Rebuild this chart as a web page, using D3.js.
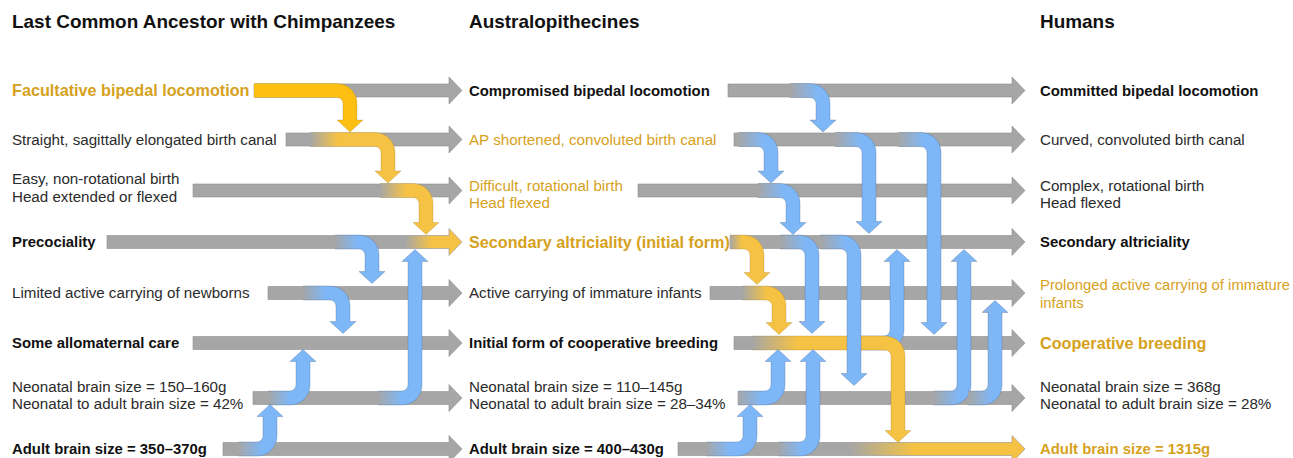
<!DOCTYPE html>
<html><head><meta charset="utf-8">
<script src="https://cdn.jsdelivr.net/npm/d3@7"></script>
<style>
body{margin:0;background:#fff}
text{font-family:"Helvetica Neue",Helvetica,"Liberation Sans",Arial,sans-serif}
</style>
</head><body>
<svg id="chart" width="1293" height="458"></svg>
<script>
// ---------------- DATA ----------------
const columnTitles = ["Last Common Ancestor with Chimpanzees", "Australopithecines", "Humans"];

const lcaTraits = [
  "Facultative bipedal locomotion",
  "Straight, sagittally elongated birth canal",
  "Easy, non-rotational birth\nHead extended or flexed",
  "Precociality",
  "Limited active carrying of newborns",
  "Some allomaternal care",
  "Neonatal brain size = 150–160g\nNeonatal to adult brain size = 42%",
  "Adult brain size = 350–370g"
];
const australTraits = [
  "Compromised bipedal locomotion",
  "AP shortened, convoluted birth canal",
  "Difficult, rotational birth\nHead flexed",
  "Secondary altriciality (initial form)",
  "Active carrying of immature infants",
  "Initial form of cooperative breeding",
  "Neonatal brain size = 110–145g\nNeonatal to adult brain size = 28–34%",
  "Adult brain size = 400–430g"
];
const humanTraits = [
  "Committed bipedal locomotion",
  "Curved, convoluted birth canal",
  "Complex, rotational birth\nHead flexed",
  "Secondary altriciality",
  "Prolonged active carrying of immature\ninfants",
  "Cooperative breeding",
  "Neonatal brain size = 368g\nNeonatal to adult brain size = 28%",
  "Adult brain size = 1315g"
];
const strongRows = [0, 3, 5, 7];
const highlightedRows = [[0], [1, 2, 3], [4, 5, 7]];
const headlineRows = [[0], [3], [5]];

// influences between traits: [transition, fromRow, toRow, kind]
const influenceTransition = [0,0,0,0,0,0,0,0, 1, 1,1,1,1, 1,1,1,1,1,1,1,1,1,1,1];
const influenceFrom       = [0,1,2,3,4,6,7,6, 5, 5,3,4,0, 1,1,1,2,3,3,6,6,6,7,7];
const influenceTo         = [1,2,3,4,5,5,6,3, 3, 7,4,5,1, 2,3,5,3,5,6,3,4,5,6,5];
const influenceKind       = ["primary","derived","derived","feedback","feedback","feedback","feedback","feedback",
  "feedback","derived","derived","derived","feedback","feedback","feedback","feedback","feedback",
  "feedback","feedback","feedback","feedback","feedback","feedback","feedback"];

// ---------------- LAYOUT ----------------
const W = 1293, H = 458;
const svg = d3.select("#chart");
const defs = svg.append("defs");
const rows = d3.range(8);
const y = d3.scaleOrdinal().domain(rows).range([90.5, 139.5, 190.5, 242, 293, 343, 398, 449]);
const x = d3.scaleLinear().domain([0, W]).range([0, W]);

const textX = [12, 469, 1040];
const barStart = [[254, 286, 193, 107, 268, 193, 253, 223], [728, 734, 638, 730, 710, 734, 738, 678]];
const barEnd = [462, 1025];
const barGlow = [{t: 0, row: 3, from: 405, to: 432}, {t: 1, row: 7, from: 850, to: 915}];
// where each influence leaves its row and where it turns
const linkStart = [254, 310, 380, 335, 303, 268, 238, 378, 860, 752, 730, 742, 790, 738, 835, 898, 758, 780, 820, 933, 968, 738, 706, 778];
const linkTurn  = [350, 388, 426, 372, 343, 303, 270, 415, 897, 898, 757, 779, 823, 771, 869, 934, 793, 812, 854, 964, 995, 778, 750, 813];
const linkFade  = [0, 28, 26, 22, 22, 22, 24, 24, 24, 45, 12, 25, 28, 26, 26, 26, 26, 26, 26, 26, 24, 24, 24, 24];
const linkGap   = [1, 1, 1, 3, 3, 0, 0, 1, 1, 0, 2, 2, 1, 1, 2, 2, 1, 3, 6, 1, 1, 0, 0, 0];
const twoLineShift = {"1-2": 6.5, "2-2": 6.5, "2-4": 3.5};

const GRAY = "#a6a6a6", BLUE = "#7eb7f8", GOLD = "#f5c244", GOLD1 = "#fcbf12", GOLD_TEXT = "#d6a11c";
const kindColor = {primary: GOLD1, derived: GOLD, feedback: BLUE};
const BH = 6.5, HH = 13.5, HL = 13;   // bar half height, head half height, head length
const LH = 7, R = 13, AW = 13, AL = 12; // link half width, turn radius, arrow half width, arrow length

// ---------------- BARS ----------------
const barData = [];
[0, 1].forEach(t => rows.forEach(r => barData.push({t, r})));
barData.forEach((d, i) => {
  const g = barGlow.find(b => b.t === d.t && b.row === d.r);
  if (g) {
    const lg = defs.append("linearGradient").attr("id", "bar" + i)
      .attr("gradientUnits", "userSpaceOnUse")
      .attr("x1", x(g.from)).attr("x2", x(g.to)).attr("y1", 0).attr("y2", 0);
    lg.append("stop").attr("offset", 0).attr("stop-color", GRAY);
    lg.append("stop").attr("offset", 1).attr("stop-color", GOLD);
    d.fill = "url(#bar" + i + ")";
  } else d.fill = GRAY;
});
svg.append("g").selectAll("path").data(barData).join("path")
  .attr("d", d => {
    const x0 = x(barStart[d.t][d.r]), xe = x(barEnd[d.t]), yc = y(d.r);
    return `M${x0},${yc - BH}H${xe - HL}V${yc - HH}L${xe},${yc}L${xe - HL},${yc + HH}V${yc + BH}H${x0}Z`;
  })
  .attr("fill", d => d.fill)
  .attr("stroke", "#8f8f8f").attr("stroke-width", 0.6);

// ---------------- INFLUENCE LINKS ----------------
const links = influenceFrom.map((f, i) => ({
  i, t: influenceTransition[i], from: f, to: influenceTo[i], kind: influenceKind[i],
  x0: linkStart[i], xs: linkTurn[i], fade: linkFade[i], gap: linkGap[i]
}));
// draw order: the hidden feedback under the gold band first, then gold, then blue
const order = l => (l.i === 8 ? 0 : (l.kind === "feedback" ? 2 : 1));
links.sort((a, b) => order(a) - order(b) || a.i - b.i);

links.forEach(l => {
  const col = kindColor[l.kind];
  if (l.fade > 0) {
    const lg = defs.append("linearGradient").attr("id", "lk" + l.i)
      .attr("gradientUnits", "userSpaceOnUse")
      .attr("x1", x(l.x0)).attr("x2", x(l.x0 + l.fade)).attr("y1", 0).attr("y2", 0);
    lg.append("stop").attr("offset", 0).attr("stop-color", GRAY);
    lg.append("stop").attr("offset", 1).attr("stop-color", col);
    l.fill = "url(#lk" + l.i + ")";
  } else l.fill = col;
});

function linkPath(l) {
  const yF = y(l.from), yT = y(l.to);
  const d = yT > yF ? 1 : -1;
  const x0 = x(l.x0), xs = x(l.xs);
  const yTip = yT - d * (BH + l.gap);
  const yBase = yTip - d * AL;
  const Ro = R + LH, Ri = R - LH;
  const s1 = d > 0 ? 1 : 0, s2 = d > 0 ? 0 : 1;
  return `M${x0},${yF - d * LH}H${xs - R}` +
    `A${Ro},${Ro} 0 0 ${s1} ${xs + LH},${yF + d * R}` +
    `V${yBase}H${xs + AW}L${xs},${yTip}L${xs - AW},${yBase}H${xs - LH}` +
    `V${yF + d * R}A${Ri},${Ri} 0 0 ${s2} ${xs - R},${yF + d * LH}H${x0}`;
}
svg.append("g").selectAll("path").data(links).join("path")
  .attr("d", linkPath)
  .attr("fill", l => l.fill)
  .attr("stroke", l => l.kind === "feedback" ? "rgba(70,100,140,0.45)" : "rgba(140,110,30,0.35)")
  .attr("stroke-width", 0.7);

// ---------------- TEXT ----------------
const columns = [lcaTraits, australTraits, humanTraits];
svg.append("g").selectAll("text").data(columnTitles).join("text")
  .attr("x", (d, i) => textX[i]).attr("y", 28)
  .attr("font-size", 18.95).attr("font-weight", "bold").attr("fill", "#111")
  .text(d => d);

columns.forEach((labels, c) => {
  const g = svg.append("g");
  labels.forEach((lab, r) => {
    const strong = strongRows.includes(r);
    const head = headlineRows[c].includes(r);
    const hi = highlightedRows[c].includes(r);
    let fs = head ? 16.2 : (strong ? 14.9 : 15.17);
    const lines = lab.split("\n");
    const t = g.append("text")
      .attr("font-size", fs)
      .attr("font-weight", strong ? "bold" : "normal")
      .attr("fill", hi ? GOLD_TEXT : (strong ? "#111" : "#2b2b2b"));
    if (lines.length === 1) {
      t.append("tspan").attr("x", textX[c]).attr("y", y(r) + 0.34 * fs).text(lab);
    } else {
      const sh = twoLineShift[c + "-" + r] || 0;
      lines.forEach((ln, k) => {
        t.append("tspan").attr("x", textX[c]).attr("y", y(r) - 6.5 + sh + k * 17.5).text(ln);
      });
    }
    // keep every label inside the picture
    const widest = d3.max(t.selectAll("tspan").nodes(), n => n.getComputedTextLength());
    const room = W - 3 - textX[c];
    if (widest > room) t.attr("font-size", fs * room / widest);
  });
});
</script>
</body></html>
